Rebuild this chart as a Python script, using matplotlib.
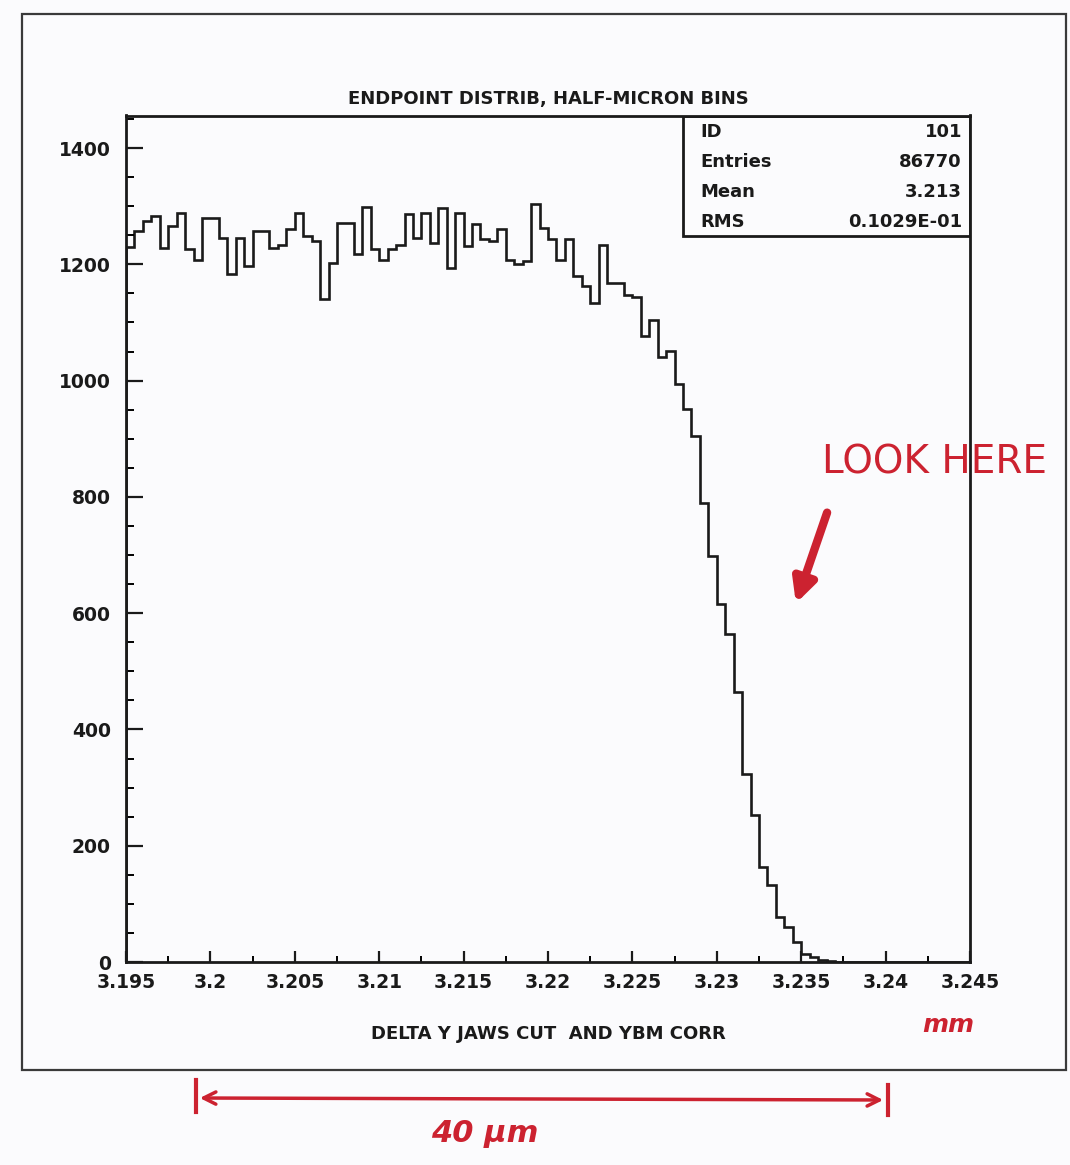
import numpy as np
import matplotlib
matplotlib.use("Agg")
import matplotlib.pyplot as plt
from matplotlib.patches import Rectangle, FancyArrowPatch
from matplotlib.lines import Line2D
from matplotlib.ticker import MultipleLocator, FuncFormatter

# ---- histogram data: endpoint distribution, half-micron bins (mm) ----
x_min = 3.195
x_max = 3.245
bin_width = 0.0005
counts = [
    1230, 1258, 1275, 1283, 1228, 1266, 1288, 1226, 1208, 1280,
    1280, 1246, 1183, 1246, 1197, 1257, 1257, 1228, 1234, 1260,
    1289, 1249, 1240, 1140, 1203, 1271, 1271, 1217, 1299, 1226,
    1208, 1226, 1234, 1286, 1245, 1289, 1237, 1297, 1194, 1289,
    1231, 1269, 1243, 1240, 1260, 1208, 1200, 1206, 1303, 1263,
    1243, 1208, 1243, 1180, 1163, 1134, 1234, 1168, 1168, 1148,
    1143, 1077, 1105, 1040, 1051, 994, 951, 905, 790, 699,
    616, 564, 465, 324, 252, 163, 133, 77, 60, 34,
    14, 9, 4, 1, 0, 0, 0, 0, 0, 0,
    0, 0, 0, 0, 0, 0, 0, 0, 0, 0,
]
y_max = 1456

title = "ENDPOINT DISTRIB, HALF-MICRON BINS"
x_label = "DELTA Y JAWS CUT  AND YBM CORR"
stat_names = ["ID", "Entries", "Mean", "RMS"]
stat_values = ["101", "86770", "3.213", "0.1029E-01"]

ink = "#1a1a1a"
red = "#cc2230"
paper = "#fbfbfd"

W, H = 1070, 1165
fig = plt.figure(figsize=(W / 100, H / 100), dpi=100, facecolor=paper)


def fx(px):
    return px / W


def fy(py):
    return 1 - py / H


# outer page border
fig.add_artist(Rectangle((fx(22), fy(1070)), fx(1066) - fx(22), fy(14) - fy(1070),
                         transform=fig.transFigure, fill=False,
                         edgecolor="#3a3a3a", lw=1.6))

ax_l, ax_r, ax_t, ax_b = 126, 970, 115.5, 962
ax = fig.add_axes([fx(ax_l), fy(ax_b), fx(ax_r) - fx(ax_l), fy(ax_t) - fy(ax_b)])
ax.set_facecolor(paper)

edges = x_min + bin_width * np.arange(len(counts) + 1)
ax.stairs(counts, edges, baseline=0, color=ink, lw=1.9)

ax.set_xlim(x_min, x_max)
ax.set_ylim(0, y_max)

for s in ax.spines.values():
    s.set_linewidth(2.0)
    s.set_color(ink)

ax.xaxis.set_major_locator(MultipleLocator(0.005))
ax.xaxis.set_minor_locator(MultipleLocator(0.0025))
ax.yaxis.set_major_locator(MultipleLocator(200))
ax.yaxis.set_minor_locator(MultipleLocator(50))
ax.xaxis.set_major_formatter(FuncFormatter(lambda v, p: f"{v:.3f}".rstrip("0").rstrip(".")))
ax.yaxis.set_major_formatter(FuncFormatter(lambda v, p: f"{v:.0f}"))
ax.tick_params(axis="x", which="major", direction="in", length=8, width=1.6, pad=8,
               labelsize=13.5, colors=ink)
ax.tick_params(axis="x", which="minor", direction="in", length=4, width=1.4)
ax.tick_params(axis="y", which="major", direction="in", length=12, width=1.6, pad=11,
               labelsize=13.5, colors=ink)
ax.tick_params(axis="y", which="minor", direction="in", length=6, width=1.4)
for lab in ax.get_xticklabels() + ax.get_yticklabels():
    lab.set_fontweight("bold")

ax.set_title(title, fontsize=13, fontweight="bold", color=ink, pad=8)
ax.set_xlabel(x_label, fontsize=13, fontweight="bold", color=ink, labelpad=24)

# statistics box in the upper-right corner
bx0, by0 = 0.66, 0.8577
ax.add_patch(Rectangle((bx0, by0), 1 - bx0, 1 - by0, transform=ax.transAxes,
                       fill=False, edgecolor=ink, lw=2.0, zorder=5))
row_y = [0.9805, 0.945, 0.9096, 0.8742]
for name, val, yy in zip(stat_names, stat_values, row_y):
    ax.text(0.680, yy, name, transform=ax.transAxes, ha="left", va="center",
            fontsize=13, fontweight="bold", color=ink)
    ax.text(0.9905, yy, val, transform=ax.transAxes, ha="right", va="center",
            fontsize=13, fontweight="bold", color=ink)

# red hand annotations
fig.text(fx(935), fy(462), "LOOK HERE", ha="center", va="center",
         fontsize=28, color=red, zorder=10)
fig.add_artist(FancyArrowPatch((fx(828), fy(510)), (fx(795), fy(606)),
                               transform=fig.transFigure, arrowstyle="-|>",
                               mutation_scale=34, color=red, lw=6, zorder=10))
fig.text(fx(948), fy(1025), "mm", ha="center", va="center",
         fontsize=18, color=red, style="italic", fontweight="bold", zorder=10)

fig.add_artist(FancyArrowPatch((fx(197), fy(1098)), (fx(886), fy(1100)),
                               transform=fig.transFigure, arrowstyle="<->",
                               mutation_scale=22, color=red, lw=2.5, zorder=10))
fig.add_artist(Line2D([fx(196), fx(196)], [fy(1080), fy(1112)],
                      transform=fig.transFigure, color=red, lw=3, zorder=10))
fig.add_artist(Line2D([fx(888), fx(888)], [fy(1085), fy(1115)],
                      transform=fig.transFigure, color=red, lw=3, zorder=10))
fig.text(fx(485), fy(1133), "40 μm", ha="center", va="center",
         fontsize=22, color=red, style="italic", fontweight="bold", zorder=10)

fig.savefig("out.png", dpi=100, facecolor=paper)
